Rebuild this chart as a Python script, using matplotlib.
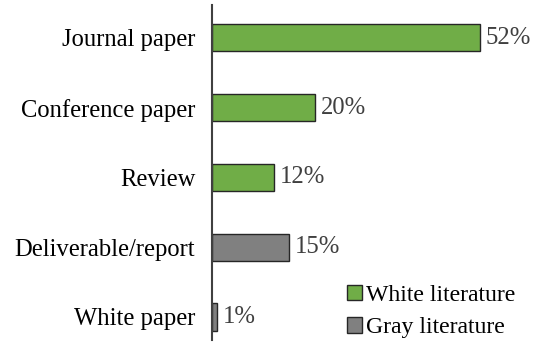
import matplotlib
matplotlib.use("Agg")
import matplotlib.pyplot as plt
from matplotlib.patches import Patch

categories = ["Journal paper", "Conference paper", "Review", "Deliverable/report", "White paper"]
values = [52, 20, 12, 15, 1]
groups = ["White literature", "White literature", "White literature", "Gray literature", "Gray literature"]
group_names = ["White literature", "Gray literature"]
group_colors = {"White literature": "#70AD47", "Gray literature": "#808080"}

plt.rcParams['font.family'] = ['Liberation Serif', 'DejaVu Serif']
FS = 17.7

fig = plt.figure(figsize=(5.39, 3.42), dpi=100)
ax = fig.add_axes([212/539, 2/342, 1 - 212/539, 1 - 7/342])

ypos = list(range(len(categories)))
colors = [group_colors[g] for g in groups]
bars = ax.barh(ypos, values, height=0.39, color=colors, edgecolor="#262626", linewidth=1.0)

for b, v in zip(bars, values):
    ax.text(b.get_width() + 1.1, b.get_y() + b.get_height()/2, f"{v}%",
            va="center", ha="left", fontsize=FS, color="#404040")

ax.set_yticks(ypos)
ax.set_yticklabels(categories, fontsize=FS, color="black")
ax.tick_params(axis="y", length=0, pad=12)
ax.set_xticks([])
ax.set_xlim(0, (539 - 212) / 5.15)
ax.set_ylim(4 + 0.33, -0.47)
for s in ["top", "right", "bottom"]:
    ax.spines[s].set_visible(False)
ax.spines["left"].set_color("#404040")
ax.spines["left"].set_linewidth(1.5)

handles = [Patch(facecolor=group_colors[g], edgecolor="#262626", linewidth=1.0, label=g) for g in group_names]
fig.legend(handles=handles, loc="center left", bbox_to_anchor=(347/539, 1 - 311.5/342),
           frameon=False, fontsize=17.1, handlelength=0.62, handleheight=0.62,
           handletextpad=0.2, labelspacing=0.5, borderpad=0, borderaxespad=0)

fig.savefig("out.png", dpi=100)
